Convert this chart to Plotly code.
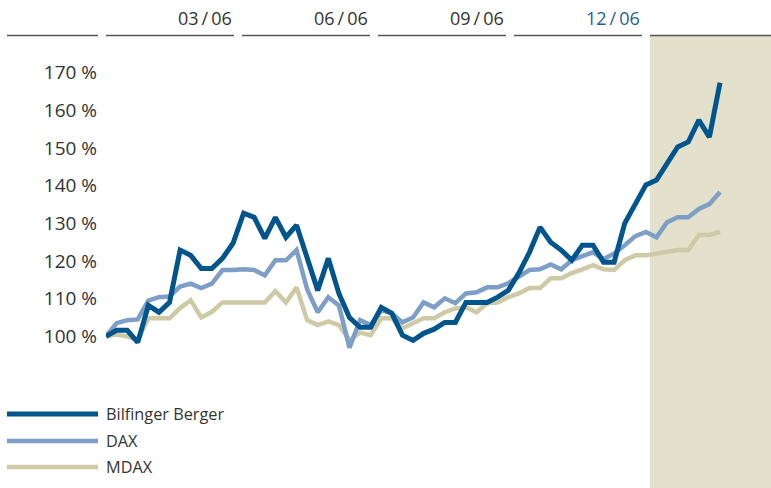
import plotly.graph_objects as go

# ---------------- data ----------------
weeks = list(range(59))  # weekly observations, Jan 2006 - Feb 2007

bilfinger = [100, 101.6, 101.6, 98.4, 108.2, 106.4, 109, 122.9, 121.5, 118,
             118, 120.7, 124.7, 132.7, 131.6, 126, 131.6, 126.3, 129.5, 121.2,
             112.2, 120.7, 111.4, 105, 102.4, 102.4, 107.7, 106.1, 100.3, 98.9,
             100.8, 101.9, 103.7, 103.7, 109, 109, 109, 110.4, 112.2, 116.8,
             122.3, 129, 125, 122.9, 120.2, 124.2, 124.2, 119.7, 119.7, 130,
             135.4, 140.2, 141.5, 146, 150.3, 151.6, 157.4, 152.9, 167.3]

dax = [100, 103.5, 104.3, 104.5, 109.5, 110.4, 110.6, 113.2, 114, 112.8,
       114, 117.6, 117.6, 117.8, 117.6, 116.2, 120.2, 120.2, 122.9, 112.5,
       106.4, 110.4, 108.2, 97, 104.3, 103, 106.9, 106.1, 103.7, 105,
       109, 107.7, 110.1, 108.8, 111.4, 111.7, 113, 113, 114.1, 115.7,
       117.6, 117.8, 119.1, 117.8, 120.2, 121.3, 122.3, 120.5, 122, 124.2,
       126.6, 127.7, 126.3, 130.3, 131.6, 131.6, 133.8, 135.1, 138.3]

mdax = [100, 100.5, 100, 99, 104.8, 104.8, 104.8, 107.5, 109.6, 105,
        106.5, 109, 109, 109, 109, 109, 112, 109, 113, 104.3,
        103, 104, 103, 99, 101, 100.3, 104.8, 104.8, 102.1, 103.5,
        104.8, 104.8, 106.4, 107.4, 107.7, 106.4, 108.8, 109, 110.4, 111.4,
        112.8, 112.8, 115.4, 115.4, 116.8, 117.8, 118.9, 117.8, 117.6, 120.2,
        121.5, 121.5, 122, 122.3, 122.9, 122.9, 126.9, 126.9, 127.7]

series_names = ["Bilfinger Berger", "DAX", "MDAX"]
y_ticks = [100, 110, 120, 130, 140, 150, 160, 170]
y_tick_labels = [f"{v} %" for v in y_ticks]
quarter_labels = ["03\u2009/\u200906", "06\u2009/\u200906", "09\u2009/\u200906", "12\u2009/\u200906"]

# ---------------- styling / layout ----------------
W, H = 771, 488
ML, MR, MT, MB = 106, 0, 35, 114
PW, PH = W - ML - MR, H - MT - MB

def px_x(p):
    return (p - ML) / PW

def px_y(p):
    return (H - MB - p) / PH

colors = {"Bilfinger Berger": "#00558c", "DAX": "#7d9ec6", "MDAX": "#cfcaa6"}
widths = {"Bilfinger Berger": 5, "DAX": 4.5, "MDAX": 4.5}
FONT = "Open Sans"
TEXT = "#333333"

fig = go.Figure()
data_map = {"Bilfinger Berger": bilfinger, "DAX": dax, "MDAX": mdax}
for name in ["MDAX", "DAX", "Bilfinger Berger"]:
    fig.add_trace(go.Scatter(
        x=weeks, y=data_map[name], mode="lines", name=name,
        line=dict(color=colors[name], width=widths[name]),
        showlegend=False, hoverinfo="skip"))

shapes = []
annotations = []
# shaded forecast-year area
shapes.append(dict(type="rect", xref="paper", yref="paper",
                   x0=px_x(650), x1=px_x(771), y0=px_y(488), y1=px_y(36),
                   fillcolor="#e3e0cc", line=dict(width=0), layer="below"))
# header segments
segs = [(7, 98), (106, 234), (242, 370), (378, 506), (514, 642), (650, 771)]
for a, b in segs:
    shapes.append(dict(type="line", xref="paper", yref="paper",
                       x0=px_x(a), x1=px_x(b), y0=px_y(35.5), y1=px_y(35.5),
                       line=dict(color="#555555", width=1.3)))
for i, lab in enumerate(quarter_labels):
    a, b = segs[i + 1]
    annotations.append(dict(text=lab, xref="paper", yref="paper",
                            x=px_x(b), y=px_y(18), xanchor="right",
                            yanchor="middle", showarrow=False,
                            font=dict(family=FONT, size=18,
                                      color="#1f5f99" if i == 3 else TEXT)))
# custom legend
leg_y = [414, 441, 467]
for name, yy in zip(series_names, leg_y):
    shapes.append(dict(type="line", xref="paper", yref="paper",
                       x0=px_x(7), x1=px_x(98), y0=px_y(yy), y1=px_y(yy),
                       line=dict(color=colors[name], width=widths[name])))
    annotations.append(dict(text=name, xref="paper", yref="paper",
                            x=px_x(104), y=px_y(yy), xanchor="left",
                            yanchor="middle", showarrow=False,
                            font=dict(family=FONT, size=16.3, color=TEXT)))

fig.update_layout(
    width=W, height=H,
    margin=dict(l=ML, r=MR, t=MT, b=MB, pad=0),
    paper_bgcolor="white", plot_bgcolor="rgba(0,0,0,0)",
    hovermode=False,
    xaxis=dict(range=[0, 58 * PW / 614], showgrid=False, zeroline=False,
               showticklabels=False, showline=False, ticks="", fixedrange=True),
    yaxis=dict(range=[90, 180], showgrid=False, zeroline=False, showline=False,
               tickvals=y_ticks, ticktext=y_tick_labels, ticks="",
               ticklabelstandoff=8, automargin=False, fixedrange=True,
               tickfont=dict(family=FONT, size=19, color=TEXT)),
    shapes=shapes, annotations=annotations,
)

fig.write_html("out.html", config={"displayModeBar": False},
               post_script="document.body.style.margin='0';")
